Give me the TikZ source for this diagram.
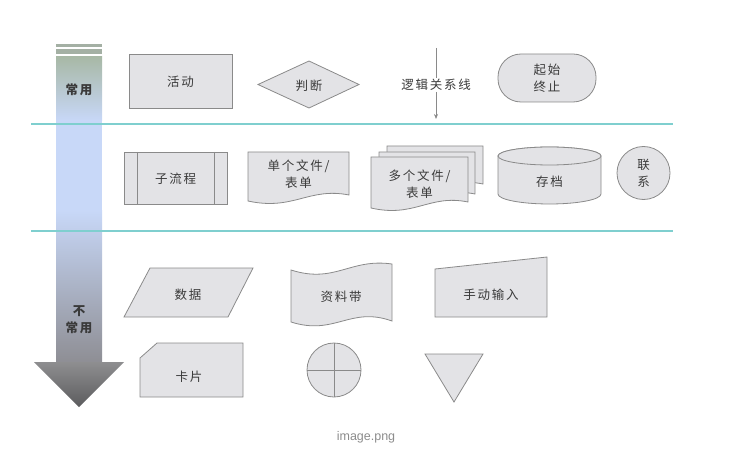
\documentclass[tikz,border=0pt]{standalone}
\usepackage{fontspec}
\setmainfont{Liberation Sans}
\newfontfamily\cjk[LetterSpace=14]{Noto Sans CJK SC}
\usetikzlibrary{arrows.meta}
\definecolor{shfill}{HTML}{E3E3E6}
\definecolor{shdraw}{HTML}{8A8A8A}
\definecolor{tealline}{HTML}{7FCFCF}
\definecolor{txt}{HTML}{3A3A3A}
\definecolor{agreen}{HTML}{A8B8A6}
\definecolor{ablue}{HTML}{C8D8F8}
\definecolor{agray}{HTML}{8E8E94}
\definecolor{ahead1}{HTML}{8E8E90}
\definecolor{ahead2}{HTML}{5C5C5E}
\definecolor{abar}{HTML}{A4B0A4}
\begin{document}
\begin{tikzpicture}[x=1pt,y=-1pt,
  shp/.style={fill=shfill,draw=shdraw,line width=0.8pt},
  lbl/.style={font=\cjk\fontsize{12.5}{17}\selectfont,text=txt,align=center,inner sep=0pt},
  blbl/.style={font=\cjk\bfseries\fontsize{12.5}{17}\selectfont,text=txt,align=center,inner sep=0pt},
  sep/.style={draw=tealline,line width=1.2pt},
  logic/.style={draw=shdraw,line width=0.7pt}]
\useasboundingbox (0,0) rectangle (730,457);

% big arrow
\fill[abar] (56,44) rectangle (102,47);
\fill[abar] (56,49) rectangle (102,54);
\shade[top color=agreen,bottom color=ablue] (56,57) rectangle (102,121);
\fill[ablue] (56,120) rectangle (102,211);
\shade[top color=ablue,bottom color=agray] (56,210) rectangle (102,362.5);
\shade[top color=ahead1,bottom color=ahead2] (34,362) -- (124,362) -- (79,407) -- cycle;
\node[blbl] (often) at (79,90) {常用};
\node[blbl] (rare) at (79,320) {不\\常用};

% separator lines
\draw[sep] (31,124) -- (673,124);
\draw[sep] (31,231) -- (673,231);

% row 1
\draw[shp] (129,54) rectangle (232,108);
\node[lbl] (act) at (180.5,82) {活动};
\draw[shp] (258,84.5) -- (309,61) -- (359,84.5) -- (309,108) -- cycle;
\node[lbl] (dec) at (309,86) {判断};
\node[lbl,fill=white,inner sep=1pt] (logictxt) at (436,85) {逻辑关系线};
\coordinate (ltop) at (436,48);
\coordinate (lbot) at (436,119);
\draw[logic] (ltop) -- (logictxt.north);
\draw[logic,-{Stealth[length=5pt,width=4pt]}] (logictxt.south) -- (lbot);
\draw[shp,rounded corners=23pt] (498,54) rectangle (596,102);
\node[lbl] (term) at (547,78) {起始\\终止};

% row 2
\draw[shp] (124,152) rectangle (227,204);
\draw[shdraw,line width=0.8pt] (137,152) -- (137,204) (214,152) -- (214,204);
\node[lbl] (sub) at (175.5,179) {子流程};

\newcommand{\mydoc}[4]{%
  \draw[shp] (#1,#2) -- (#1+#3,#2) -- (#1+#3,#2+#4-6)
    .. controls (#1+0.6*#3,#2+#4-14) and (#1+0.45*#3,#2+#4+10) .. (#1,#2+#4) -- cycle;}
\mydoc{248}{152}{101}{49}
\node[lbl] (doc) at (298.5,174) {单个文件/\\表单};
\mydoc{387}{146}{96}{44}
\mydoc{379}{152}{96}{48}
\mydoc{371}{157}{97}{51}
\node[lbl] (docs) at (419.5,184) {多个文件/\\表单};

\draw[shp] (498,156) -- (498,194) arc[start angle=180,end angle=0,x radius=51.5,y radius=10]
  -- (601,156) arc[start angle=0,end angle=-180,x radius=51.5,y radius=9];
\draw[shp] (549.5,156) ellipse[x radius=51.5,y radius=9];
\node[lbl] (store) at (549.5,182) {存档};
\draw[shp] (643.5,173) circle[radius=26.5];
\node[lbl] (conn) at (643.5,173) {联\\系};

% row 3
\draw[shp] (150,268) -- (253,268) -- (228,317) -- (124,317) -- cycle;
\node[lbl] (data) at (188,295) {数据};
\draw[shp] (291,270) .. controls (335,284) and (350,258) .. (392,264) -- (392,321)
  .. controls (350,306) and (335,336) .. (291,322) -- cycle;
\node[lbl] (tape) at (341,297) {资料带};
\draw[shp] (435,269) -- (547,257) -- (547,317) -- (435,317) -- cycle;
\node[lbl] (manual) at (491,295) {手动输入};

% row 4
\draw[shp] (157,343) -- (243,343) -- (243,397) -- (140,397) -- (140,358) -- cycle;
\node[lbl] (card) at (189,377) {卡片};
\draw[shp] (334,370) circle[radius=27];
\draw[shdraw,line width=0.8pt] (307,370) -- (361,370) (334,343) -- (334,397);
\coordinate (junction) at (334,370);
\draw[shp] (425,354) -- (483,354) -- (454,402) -- cycle;
\coordinate (merge) at (454,370);

% caption
\node[font=\fontsize{12.5}{15}\selectfont,text=black!45,inner sep=0pt] (cap) at (366,437) {image.png};
\end{tikzpicture}
\end{document}
